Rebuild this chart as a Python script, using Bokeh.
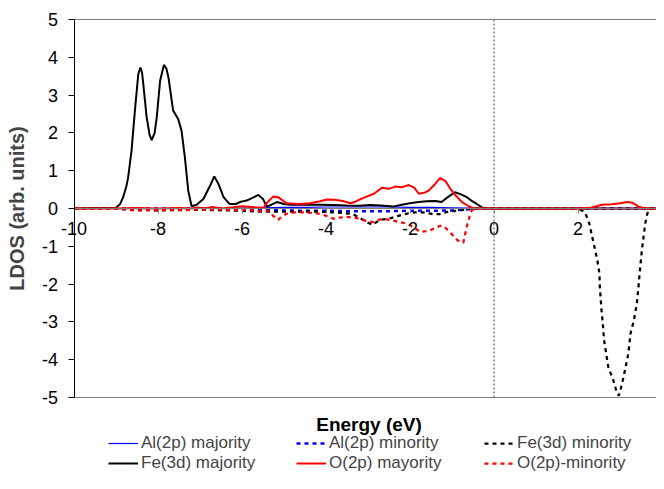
from bokeh.plotting import figure
from bokeh.models import Range1d, LinearAxis, FixedTicker, Legend, LegendItem, Label
from bokeh.embed import file_html
from bokeh.resources import INLINE

FONT = "Liberation Sans"

x_ticks = [-10, -8, -6, -4, -2, 0, 2, 4]
y_ticks = [-5, -4, -3, -2, -1, 0, 1, 2, 3, 4, 5]
x_lo, x_hi = -10, 4.05
y_lo, y_hi = -5, 5

# Fe(3d) majority
fe_maj_e = [-10, -9.0, -8.9, -8.83, -8.75, -8.71, -8.63, -8.55, -8.47, -8.42, -8.38, -8.35, -8.27, -8.2, -8.15,
            -8.08, -8.03, -7.95, -7.86, -7.8, -7.75, -7.64, -7.52, -7.44, -7.36, -7.28, -7.2, -7.08, -6.92, -6.76,
            -6.66, -6.56, -6.44, -6.3, -6.15, -6.05, -5.89, -5.75, -5.61, -5.5, -5.41, -5.3, -5.17, -5.0, -4.86,
            -4.5, -4.14, -3.8, -3.51, -3.2, -2.95, -2.7, -2.4, -2.2, -2.0, -1.8, -1.6, -1.4, -1.25, -1.1, -0.93,
            -0.8, -0.65, -0.5, -0.41, -0.3, -0.25, 0, 1, 2, 3, 4.05]
fe_maj_v = [0, 0.02, 0.12, 0.3, 0.6, 0.83, 1.53, 2.59, 3.55, 3.73, 3.6, 3.29, 2.41, 1.95, 1.81,
            2.0, 2.41, 3.38, 3.80, 3.7, 3.46, 2.59, 2.37, 2.06, 1.35, 0.47, 0.06, 0.1, 0.25, 0.6,
            0.85, 0.65, 0.3, 0.12, 0.12, 0.17, 0.21, 0.28, 0.36, 0.25, 0.05, 0.1, 0.17, 0.12, 0.1,
            0.1, 0.1, 0.09, 0.08, 0.07, 0.09, 0.08, 0.05, 0.1, 0.14, 0.17, 0.19, 0.2, 0.17, 0.3, 0.43,
            0.38, 0.3, 0.18, 0.12, 0.04, 0.0, 0, 0, 0, 0, 0]

# Fe(3d) minority
fe_min_e = [-10, -9, -8.7, -8.4, -8.0, -7.6, -7.2, -6.8, -6.4, -6.0, -5.6, -5.2, -4.8, -4.4, -4.0, -3.86,
            -3.6, -3.38, -3.19, -3.05, -2.9, -2.71, -2.5, -2.3, -2.1, -1.9, -1.7, -1.48, -1.3, -1.08, -0.8,
            -0.57, -0.45, 0, 1.0, 2.0, 2.17, 2.27, 2.33, 2.40, 2.46, 2.51, 2.52, 2.54, 2.56, 2.59, 2.62, 2.67,
            2.72, 2.84, 2.92, 2.97, 3.0, 3.06, 3.12, 3.20, 3.25, 3.33, 3.40, 3.44, 3.46, 3.49, 3.52, 3.56,
            3.60, 3.65, 3.70, 4.05]
fe_min_v = [0, 0, -0.03, -0.04, -0.05, -0.04, -0.03, -0.04, -0.05, -0.06, -0.08, -0.08, -0.08, -0.08, -0.09, -0.1,
            -0.12, -0.14, -0.25, -0.35, -0.43, -0.30, -0.27, -0.2, -0.14, -0.1, -0.1, -0.14, -0.15, -0.08, -0.05,
            0, 0, 0, 0, 0, -0.1, -0.4, -0.71, -1.06, -1.37, -1.72, -2.08, -2.38, -2.69, -3.04, -3.48, -3.83,
            -4.19, -4.54, -4.85, -4.95, -4.85, -4.58, -4.27, -3.83, -3.31, -2.96, -2.52, -2.08, -1.81, -1.46, -1.11, -0.76,
            -0.40, -0.14, 0, 0]

# O(2p) majority
o_maj_e = [-10, -9, -8.5, -8.0, -7.5, -7.2, -7.05, -6.9, -6.7, -6.5, -6.2, -6.0, -5.7, -5.49, -5.38, -5.25, -5.14,
           -5.04, -4.94, -4.65, -4.38, -4.14, -3.98, -3.8, -3.6, -3.42, -3.3, -3.19, -3.06, -2.86, -2.67, -2.51,
           -2.35, -2.2, -2.03, -1.9, -1.79, -1.65, -1.56, -1.4, -1.28, -1.15, -1.04, -0.9, -0.76, -0.6, -0.52,
           -0.45, 0, 1.0, 2.0, 2.3, 2.57, 2.8, 2.97, 3.17, 3.3, 3.44, 3.6, 4.05]
o_maj_v = [0, 0, 0.01, 0.0, 0.01, 0.0, 0.03, 0.0, 0.04, 0.0, 0.03, 0.06, 0.03, 0.02, 0.18, 0.32, 0.30,
           0.22, 0.14, 0.12, 0.14, 0.19, 0.24, 0.23, 0.2, 0.14, 0.18, 0.24, 0.3, 0.39, 0.55, 0.52,
           0.58, 0.56, 0.62, 0.55, 0.39, 0.42, 0.47, 0.65, 0.81, 0.72, 0.52, 0.33, 0.17, 0.06, 0.02,
           0, 0, 0, 0, 0.02, 0.1, 0.11, 0.13, 0.17, 0.15, 0.05, 0, 0]

# O(2p) minority
o_min_e = [-10, -9, -8.8, -8.5, -8.2, -8.0, -7.7, -7.4, -7.1, -6.8, -6.5, -6.2, -5.9, -5.6, -5.41, -5.25, -5.14,
           -5.04, -4.94, -4.75, -4.54, -4.3, -4.14, -3.98, -3.83, -3.67, -3.51, -3.35, -3.19, -3.05, -2.87, -2.75,
           -2.63, -2.5, -2.4, -2.25, -2.08, -1.9, -1.76, -1.62, -1.52, -1.38, -1.25, -1.15, -1.05, -0.93, -0.81,
           -0.73, -0.65, -0.58, -0.53, -0.45, 0, 4.05]
o_min_v = [0, 0, -0.02, -0.06, -0.04, -0.06, -0.03, -0.05, -0.02, -0.04, -0.02, -0.05, -0.03, -0.07, -0.05, -0.2, -0.30,
           -0.2, -0.14, -0.1, -0.1, -0.12, -0.14, -0.2, -0.27, -0.24, -0.22, -0.24, -0.27, -0.33, -0.36, -0.3,
           -0.27, -0.3, -0.32, -0.36, -0.4, -0.5, -0.62, -0.6, -0.58, -0.5, -0.45, -0.52, -0.62, -0.78, -0.89,
           -0.9, -0.49, -0.2, -0.05, 0, 0, 0]

# Al(2p)
al_e = [-10, -6.5, -6.0, -5.5, -5.0, -4.5, -4.0, -3.5, -3.0, -2.5, -2.0, -1.5, -1.0, -0.6, -0.45, 0, 4.05]
al_maj_v = [0, 0, 0.01, 0.02, 0.03, 0.03, 0.04, 0.04, 0.04, 0.04, 0.03, 0.03, 0.02, 0.01, 0, 0, 0]
al_min_v = [0, 0, -0.02, -0.04, -0.05, -0.06, -0.06, -0.07, -0.07, -0.07, -0.06, -0.06, -0.05, -0.02, 0, 0, 0]

labels = ["Al(2p) majority", "Al(2p) minority", "Fe(3d) minority",
          "Fe(3d) majority", "O(2p) mayority", "O(2p)-minority"]

# layout (pixels)
W, H = 656, 473
PX_X, PX_Y = 42.0, 37.8      # pixels per unit
LEFT_PX, TOP_PX = 73.5, 19   # canvas position of x=-10 and y=5
XLABEL_PX = 424              # canvas y of the x-axis title

xr0 = x_lo - LEFT_PX / PX_X
xr1 = xr0 + W / PX_X
yr1 = y_hi + TOP_PX / PX_Y
yr0 = yr1 - H / PX_Y

p = figure(width=W, height=H, output_backend="svg", toolbar_location=None,
           x_range=Range1d(xr0, xr1), y_range=Range1d(yr0, yr1),
           x_axis_location=None, y_axis_location=None,
           min_border_left=0, min_border_right=0, min_border_top=0, min_border_bottom=0)
p.outline_line_color = None
p.xgrid.grid_line_color = None
p.ygrid.grid_line_color = None
p.background_fill_color = "white"
p.border_fill_color = "white"

# y axis at x = -10
ya = LinearAxis(fixed_location=x_lo, ticker=FixedTicker(ticks=y_ticks), bounds=(y_lo, y_hi))
ya.major_label_overrides = {t: str(t) for t in y_ticks}
ya.axis_line_color = "black"
ya.major_tick_line_color = "black"
ya.major_tick_in = 0
ya.major_tick_out = 6
ya.minor_tick_line_color = None
ya.major_label_standoff = 10
ya.major_label_text_font = FONT
ya.major_label_text_font_size = "18px"
ya.major_label_text_color = "black"
ya.axis_label = "LDOS (arb. units)"
ya.axis_label_text_font = FONT
ya.axis_label_text_font_size = "20px"
ya.axis_label_text_font_style = "bold"
ya.axis_label_standoff = 11
p.add_layout(ya, "left")

# x axis at y = 0
xa = LinearAxis(fixed_location=0, ticker=FixedTicker(ticks=x_ticks), bounds=(x_lo, x_hi))
xa.major_label_overrides = {t: str(t) for t in x_ticks}
xa.axis_line_color = "#808080"
xa.major_tick_line_color = "#808080"
xa.major_tick_in = 0
xa.major_tick_out = 5
xa.minor_tick_line_color = None
xa.major_label_standoff = 8
xa.major_label_text_font = FONT
xa.major_label_text_font_size = "18px"
xa.major_label_text_color = "black"
p.add_layout(xa, "below")

# frame lines (top / bottom) and Fermi level
p.line([x_lo, x_hi], [y_hi, y_hi], line_color="#808080", line_width=1)
p.line([x_lo, x_hi], [y_lo, y_lo], line_color="#808080", line_width=1)
p.line([0, 0], [y_lo, y_hi], line_color="#808080", line_width=1.5, line_dash="2 2")

# x axis title
p.add_layout(Label(x=(x_lo + x_hi) / 2, y=yr1 - XLABEL_PX / PX_Y, text="Energy (eV)",
                   text_align="center", text_baseline="middle", text_font=FONT,
                   text_font_size="19px", text_font_style="bold", text_color="black"))

r_al_maj = p.line(al_e, al_maj_v, line_color="#0000FF", line_width=1.2)
r_al_min = p.line(al_e, al_min_v, line_color="#0000FF", line_width=2.5, line_dash="4 4")
r_fe_maj = p.line(fe_maj_e, fe_maj_v, line_color="black", line_width=2)
r_fe_min = p.line(fe_min_e, fe_min_v, line_color="black", line_width=2.25, line_dash="4 4")
r_o_min = p.line(o_min_e, o_min_v, line_color="#FF0000", line_width=2.25, line_dash="4 4")
r_o_maj = p.line(o_maj_e, o_maj_v, line_color="#FF0000", line_width=2)

renderers = [r_al_maj, r_al_min, r_fe_min, r_fe_maj, r_o_maj, r_o_min]
items = [LegendItem(label=l, renderers=[r]) for l, r in zip(labels, renderers)]
legend = Legend(items=items, location=(108, 0), orientation="horizontal", ncols=3,
                glyph_width=30, glyph_height=20, label_height=20, label_width=155,
                label_standoff=3, spacing=0, padding=0, margin=0,
                border_line_color=None, background_fill_alpha=0,
                label_text_font=FONT, label_text_font_size="17px")
p.add_layout(legend, "center")

open("out.html", "w").write(file_html(p, INLINE))
